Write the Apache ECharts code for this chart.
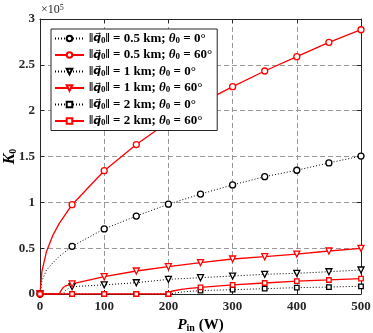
<!DOCTYPE html>
<html>
<head>
<meta charset="utf-8">
<script src="https://cdn.jsdelivr.net/npm/echarts@6/dist/echarts.min.js"></script>
<style>
  html, body { margin: 0; padding: 0; background: #fff; }
  #main { width: 373px; height: 333px; }
</style>
</head>
<body>
<div id="main"></div>
<script>
// input power (W) where markers sit
const pinMarks = [0, 50, 100, 150, 200, 250, 300, 350, 400, 450, 500];
// K0 values, in units of 1e5
const k05deg0 = [0, 0.52, 0.71, 0.85, 0.98, 1.09, 1.19, 1.28, 1.35, 1.43, 1.505];
const k05deg60 = [0, 0.974, 1.345, 1.63, 1.88, 2.08, 2.262, 2.433, 2.589, 2.746, 2.883];
const k1deg0 = [0, 0.08, 0.10, 0.123, 0.16, 0.178, 0.196, 0.215, 0.226, 0.243, 0.262];
const k1deg60 = [0, 0.11, 0.189, 0.251, 0.298, 0.342, 0.382, 0.407, 0.436, 0.469, 0.498];
const k2deg0 = [0, 0, 0, 0, 0, 0.037, 0.047, 0.058, 0.069, 0.076, 0.084];
const k2deg60 = [0, 0, 0, 0, 0, 0.072, 0.10, 0.12, 0.14, 0.153, 0.167];
// extra curve points (no marker) read where the curves bend
const knee05deg0 = [[3, 0.145], [10, 0.26], [20, 0.34], [30, 0.41]];
const knee05deg60 = [[3, 0.25], [10, 0.46], [20, 0.64], [30, 0.77]];
const knee1deg0 = [[36, 0], [40, 0.04], [44, 0.06]];
const knee1deg60 = [[30, 0], [33, 0.04], [36, 0.07], [40, 0.09]];
const knee2deg0 = [[210, 0.01], [225, 0.025]];
const knee2deg60 = [[205, 0.03], [220, 0.05], [233, 0.062]];

var chart = echarts.init(document.getElementById("main"));

const buildData = (vals, knee) => {
  let pts = pinMarks.map((p, i) => ({ value: [p, vals[i]] }));
  knee.forEach(k => pts.push({ value: k, symbol: "none" }));
  pts.sort((a, b) => a.value[0] - b.value[0]);
  return pts;
};

const legendLabel = (dist, ang) =>
  "{n|‖}{v|q\u20D7}{s|0}{n|‖ = " + dist + " km; }{q|θ}{s|0}{n| = " + ang + "°}";

const mkSeries = (name, vals, knee, color, dotted, symbol, size) => ({
  name: name,
  type: "line",
  data: buildData(vals, knee),
  symbol: symbol,
  symbolSize: size,
  symbolRotate: symbol === "triangle" ? 180 : 0,
  showAllSymbol: true,
  lineStyle: {
    color: color,
    width: dotted ? 1 : 1.3,
    type: dotted ? [1, 2] : "solid"
  },
  itemStyle: { color: "#fff", borderColor: color, borderWidth: 1.3 },
  emphasis: { disabled: true },
  animation: false
});

const names = [
  legendLabel("0.5", "0"),
  legendLabel("0.5", "60"),
  legendLabel("1", "0"),
  legendLabel("1", "60"),
  legendLabel("2", "0"),
  legendLabel("2", "60")
];

const serif = "Liberation Serif";
const axisFont = { fontFamily: serif, fontWeight: "bold", fontSize: 13, color: "#262626" };

var option = {
  backgroundColor: "#fff",
  grid: { left: 40, right: 12, top: 19, bottom: 39, show: false, outerBoundsMode: "none", containLabel: false },
  legend: {
    data: names,
    orient: "vertical",
    left: 51,
    top: 29,
    padding: [3, 5, 3, 3],
    itemWidth: 29,
    itemHeight: 7,
    itemGap: 3.5,
    backgroundColor: "#fff",
    borderColor: "#262626",
    borderWidth: 1,
    textStyle: {
      rich: {
        n: { fontFamily: serif, fontWeight: "bold", fontSize: 13, color: "#000", lineHeight: 13 },
        v: { fontFamily: "DejaVu Sans", fontWeight: "bold", fontStyle: "italic", fontSize: 11, color: "#000", lineHeight: 13 },
        q: { fontFamily: serif, fontWeight: "bold", fontStyle: "italic", fontSize: 13, color: "#000", lineHeight: 13 },
        s: { fontFamily: serif, fontWeight: "bold", fontSize: 9, color: "#000", lineHeight: 13, verticalAlign: "bottom" }
      }
    }
  },
  graphic: [{
    type: "text",
    left: 41,
    top: 4,
    style: {
      text: "{a|×10}{b|5}",
      rich: {
        a: { fontFamily: serif, fontSize: 12, fill: "#262626" },
        b: { fontFamily: serif, fontSize: 8, fill: "#262626", verticalAlign: "top" }
      }
    }
  }],
  xAxis: [{
    type: "value",
    min: 0,
    max: 500,
    interval: 100,
    name: "{p|P}{s|in}{n| (W)}",
    nameLocation: "middle",
    nameGap: 23,
    nameMoveOverlap: false,
    nameTextStyle: {
      rich: {
        p: { fontFamily: serif, fontWeight: "bold", fontStyle: "italic", fontSize: 15, color: "#000" },
        s: { fontFamily: serif, fontWeight: "bold", fontSize: 10, color: "#000", verticalAlign: "bottom", padding: [6, 0, 0, 0] },
        n: { fontFamily: serif, fontWeight: "bold", fontSize: 15, color: "#000" }
      }
    },
    axisLine: { lineStyle: { color: "#262626", width: 1 } },
    axisTick: { inside: true, length: 4, lineStyle: { color: "#262626" } },
    axisLabel: Object.assign({ margin: 6 }, axisFont),
    splitLine: { show: true, lineStyle: { color: "#999", type: [5, 3], width: 1 } }
  }, {
    type: "value",
    position: "top",
    min: 0,
    max: 500,
    interval: 100,
    axisLine: { show: true, onZero: false, lineStyle: { color: "#262626", width: 1 } },
    axisTick: { show: true, inside: true, length: 4, lineStyle: { color: "#262626" } },
    axisLabel: { show: false },
    splitLine: { show: false }
  }],
  yAxis: [{
    type: "value",
    min: 0,
    max: 3,
    interval: 0.5,
    name: "{k|K}{s|0}",
    nameLocation: "middle",
    nameRotate: 90,
    nameGap: 22,
    nameMoveOverlap: false,
    nameTextStyle: {
      rich: {
        k: { fontFamily: serif, fontWeight: "bold", fontStyle: "italic", fontSize: 16, color: "#000" },
        s: { fontFamily: serif, fontWeight: "bold", fontSize: 10, color: "#000", verticalAlign: "bottom", padding: [6, 0, 0, 0] }
      }
    },
    axisLine: { show: true, lineStyle: { color: "#262626", width: 1 } },
    axisTick: { show: true, inside: true, length: 4, lineStyle: { color: "#262626" } },
    axisLabel: Object.assign({ margin: 5 }, axisFont),
    splitLine: { show: true, lineStyle: { color: "#999", type: [5, 3], width: 1 } }
  }, {
    type: "value",
    position: "right",
    min: 0,
    max: 3,
    interval: 0.5,
    axisLine: { show: true, onZero: false, lineStyle: { color: "#262626", width: 1 } },
    axisTick: { show: true, inside: true, length: 4, lineStyle: { color: "#262626" } },
    axisLabel: { show: false },
    splitLine: { show: false }
  }],
  series: [
    mkSeries(names[0], k05deg0, knee05deg0, "#000", true, "circle", 6),
    mkSeries(names[1], k05deg60, knee05deg60, "#ff0000", false, "circle", 6),
    mkSeries(names[2], k1deg0, knee1deg0, "#000", true, "triangle", 6),
    mkSeries(names[3], k1deg60, knee1deg60, "#ff0000", false, "triangle", 6),
    mkSeries(names[4], k2deg0, knee2deg0, "#000", true, "rect", 4.5),
    mkSeries(names[5], k2deg60, knee2deg60, "#ff0000", false, "rect", 4.5)
  ]
};

chart.setOption(option);
</script>
</body>
</html>
